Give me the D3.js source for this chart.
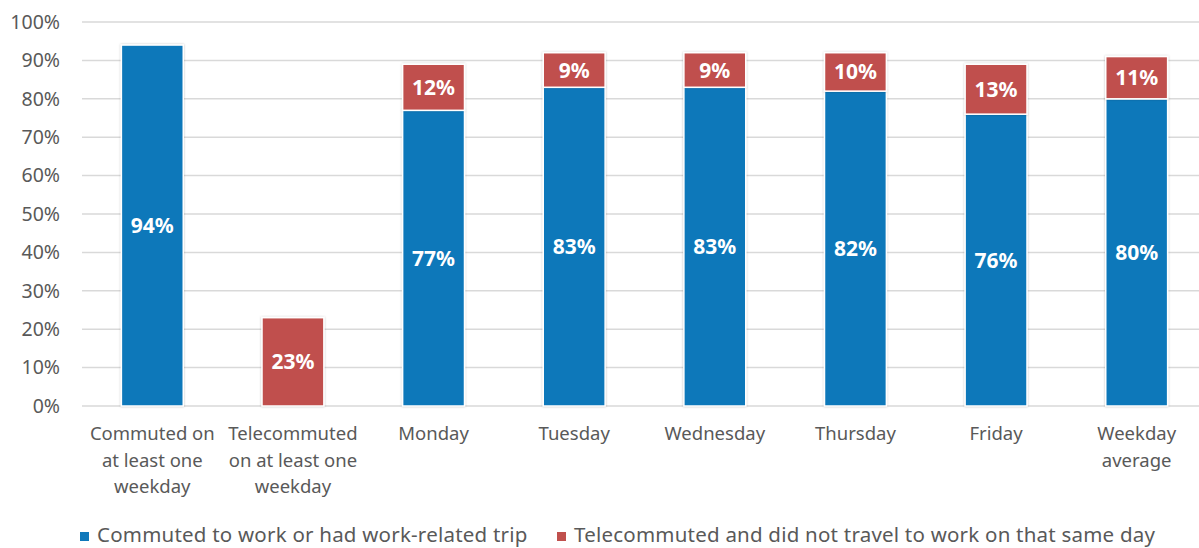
<!DOCTYPE html>
<html>
<head>
<meta charset="utf-8">
<script src="https://cdn.jsdelivr.net/npm/d3@7"></script>
<style>
  html, body { margin: 0; padding: 0; background: #fff; }
  svg { display: block; font-family: "Noto Sans", Lato, sans-serif; }
</style>
</head>
<body>
<svg id="chart" width="1199" height="548"></svg>
<script>
// Share of workers by travel behaviour
const categories = [
  ["Commuted on", "at least one", "weekday"],
  ["Telecommuted", "on at least one", "weekday"],
  ["Monday"],
  ["Tuesday"],
  ["Wednesday"],
  ["Thursday"],
  ["Friday"],
  ["Weekday", "average"]
];
const commuted     = [94, 0, 77, 83, 83, 82, 76, 80];
const telecommuted = [0, 23, 12, 9, 9, 10, 13, 11];
const yTicks = [0, 10, 20, 30, 40, 50, 60, 70, 80, 90, 100];
const seriesNames = [
  "Commuted to work or had work-related trip",
  "Telecommuted and did not travel to work on that same day"
];
const colors = ["#0F78BA", "#C0504D"];
const font = "'Noto Sans', Lato, sans-serif";

const svg = d3.select("#chart");
const x = d3.scaleBand().domain(d3.range(categories.length)).range([82, 1207]).paddingInner(0.56).paddingOuter(0.28);
const y = d3.scaleLinear().domain([0, 100]).range([406, 22]);

// gridlines
svg.append("g").selectAll("line").data(yTicks).join("line")
  .attr("x1", 82).attr("x2", 1199)
  .attr("y1", d => y(d)).attr("y2", d => y(d))
  .attr("stroke", "#D9D9D9").attr("stroke-width", 1.5);

// y axis labels
const yAxis = d3.axisLeft(y).tickValues(yTicks).tickFormat(d => d + "%").tickSize(0).tickPadding(0);
const gy = svg.append("g").attr("transform", "translate(60,0)").call(yAxis);
gy.select(".domain").remove();
gy.selectAll("text").attr("fill", "#595959").attr("font-size", 19.5).attr("font-family", font);

// soft shadow for bars
const defs = svg.append("defs");
const f = defs.append("filter").attr("id", "sh").attr("x", "-20%").attr("y", "-20%").attr("width", "140%").attr("height", "140%");
f.append("feDropShadow").attr("dx", 0).attr("dy", 0).attr("stdDeviation", 1.2).attr("flood-color", "#000").attr("flood-opacity", 0.25);

const stacked = d3.stack().keys([0, 1]).value((d, k) => k === 0 ? commuted[d] : telecommuted[d])(d3.range(categories.length));

const gBars = svg.append("g");
stacked.forEach((layer, k) => {
  layer.forEach((seg, i) => {
    if (seg[1] - seg[0] <= 0) return;
    gBars.append("rect")
      .attr("x", x(i)).attr("width", x.bandwidth())
      .attr("y", y(seg[1])).attr("height", y(seg[0]) - y(seg[1]))
      .attr("fill", colors[k]).attr("stroke", "#fff").attr("stroke-width", 1.5)
      .attr("filter", "url(#sh)");
  });
});
stacked.forEach((layer, k) => {
  layer.forEach((seg, i) => {
    const v = seg[1] - seg[0];
    if (v <= 0) return;
    gBars.append("text")
      .attr("x", x(i) + x.bandwidth() / 2)
      .attr("y", (y(seg[0]) + y(seg[1])) / 2)
      .attr("dy", "0.36em")
      .attr("text-anchor", "middle")
      .attr("fill", "#fff").attr("font-weight", "bold").attr("font-size", 21)
      .text(v + "%");
  });
});

// category labels
const xAxis = svg.append("g");
categories.forEach((lines, i) => {
  const t = xAxis.append("text")
    .attr("x", x(i) + x.bandwidth() / 2).attr("y", 440)
    .attr("text-anchor", "middle").attr("fill", "#595959").attr("font-size", 18.5);
  lines.forEach((ln, j) => t.append("tspan").attr("x", x(i) + x.bandwidth() / 2).attr("dy", j ? 26.5 : 0).text(ln));
});

// legend
const legendX = [80, 557];
const lg = svg.append("g");
seriesNames.forEach((name, k) => {
  lg.append("rect").attr("x", legendX[k]).attr("y", 532).attr("width", 9).attr("height", 9).attr("fill", colors[k]);
  lg.append("text").attr("x", legendX[k] + 17).attr("y", 542)
    .attr("fill", "#595959").attr("font-size", 20.5).attr("letter-spacing", 0.22).text(name);
});
</script>
</body>
</html>
